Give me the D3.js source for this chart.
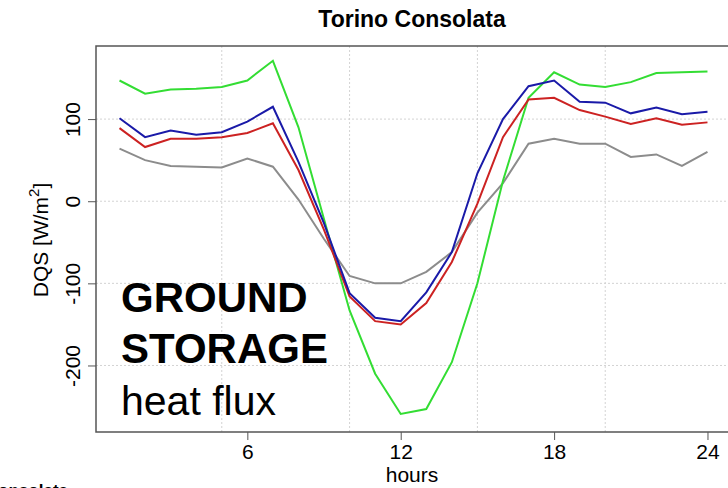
<!DOCTYPE html>
<html>
<head>
<meta charset="utf-8">
<script src="https://cdn.jsdelivr.net/npm/d3@7"></script>
<style>
  body { margin: 0; background: #fff; overflow: hidden; }
  text { font-family: "Liberation Sans", Arial, sans-serif; }
</style>
</head>
<body>
<div id="chart"></div>
<script>
// hourly values, hour 1..24
const hours = d3.range(1, 25);
const greenVals = [147, 131, 136, 137, 139, 147, 171, 90, -22, -133, -210, -259, -253, -196, -100, 25, 126, 157, 142, 139, 145, 156, 157, 158];
const blueVals = [101, 78, 86, 81, 84, 97, 115, 48, -27, -112, -142, -146, -111, -62, 34, 100, 140, 147, 121, 120, 107, 114, 106, 109];
const redVals = [89, 66, 76, 76, 78, 83, 95, 38, -35, -116, -146, -150, -124, -74, -3, 78, 124, 126, 111, 103, 94, 101, 93, 96];
const grayVals = [64, 50, 43, 42, 41, 52, 42, 2, -46, -91, -100, -100, -86, -62, -14, 22, 70, 76, 70, 70, 54, 57, 43, 60];

const xTicks = [6, 12, 18, 24];
const yTicks = [-200, -100, 0, 100];
const xGrid = [5, 10, 15, 20];

const W = 728, H = 488;
const margin = { top: 46, right: -3, bottom: 56, left: 96 };
const width = W - margin.left - margin.right,
    height = H - margin.top - margin.bottom;

const svg = d3.select('#chart').append('svg')
    .attr('width', W)
    .attr('height', H);

const g = svg.append('g')
    .attr('transform', 'translate(' + margin.left + ',' + margin.top + ')');

const x = d3.scaleLinear().domain([0.08, 24.92]).range([0, width]);
const y = d3.scaleLinear().domain([-281, 189]).range([height, 0]);

// grid
g.selectAll('.vgrid').data(xGrid).enter().append('line')
    .attr('x1', d => x(d)).attr('x2', d => x(d))
    .attr('y1', 0).attr('y2', height)
    .style('stroke', '#d3d3d3').style('stroke-dasharray', '2,2');
g.selectAll('.hgrid').data(yTicks).enter().append('line')
    .attr('x1', 0).attr('x2', width)
    .attr('y1', d => y(d)).attr('y2', d => y(d))
    .style('stroke', '#d3d3d3').style('stroke-dasharray', '2,2');

// series
const series = [
    { vals: grayVals, color: '#8c8c8c' },
    { vals: greenVals, color: '#33dd33' },
    { vals: redVals, color: '#cc2222' },
    { vals: blueVals, color: '#1a1aa8' }
];
const line = d3.line().x((d, i) => x(hours[i])).y(d => y(d));
series.forEach(function (s) {
    g.append('path')
        .datum(s.vals)
        .attr('d', line)
        .style('fill', 'none')
        .style('stroke', s.color)
        .style('stroke-width', 2);
});

// box
g.append('rect')
    .attr('x', 0).attr('y', 0)
    .attr('width', width).attr('height', height)
    .style('fill', 'none').style('stroke', '#555').style('stroke-width', 1.5);

// axes
const xAxis = g.append('g')
    .attr('transform', 'translate(0,' + height + ')')
    .call(d3.axisBottom(x).tickValues(xTicks).tickSize(8).tickPadding(4));
const yAxis = g.append('g')
    .call(d3.axisLeft(y).tickValues(yTicks).tickSize(8).tickFormat(d => String(d)));
[xAxis, yAxis].forEach(function (a) {
    a.select('.domain').remove();
    a.selectAll('line').style('stroke', '#555');
    a.selectAll('text').style('font-size', '21px').style('fill', '#000')
        .style('font-family', '"Liberation Sans", Arial, sans-serif');
});
// y labels parallel to the axis
yAxis.selectAll('text')
    .attr('x', -23).attr('y', 0).attr('dy', '0.35em')
    .attr('transform', 'rotate(-90,-23,0)')
    .style('text-anchor', 'middle');

// labels
svg.append('text')
    .attr('x', 412).attr('y', 27)
    .style('text-anchor', 'middle')
    .style('font-size', '23px').style('font-weight', 'bold')
    .text('Torino Consolata');

svg.append('text')
    .attr('x', 412).attr('y', 482)
    .style('text-anchor', 'middle')
    .style('font-size', '21px')
    .text('hours');

const yl = svg.append('text')
    .attr('transform', 'translate(48,240) rotate(-90)')
    .style('text-anchor', 'middle')
    .style('font-size', '21px');
yl.append('tspan').text('DQS [W/m');
yl.append('tspan').attr('dy', -9).style('font-size', '15px').text('2');
yl.append('tspan').attr('dy', 9).text(']');

// big annotation
svg.append('text').attr('x', 121).attr('y', 312)
    .style('font-size', '42px').style('font-weight', 'bold').text('GROUND');
svg.append('text').attr('x', 121).attr('y', 363)
    .style('font-size', '42px').style('font-weight', 'bold').text('STORAGE');
svg.append('text').attr('x', 121).attr('y', 415)
    .style('font-size', '41px').text('heat flux');

// cut-off title of the panel below
svg.append('text')
    .attr('x', 68).attr('y', 496)
    .style('text-anchor', 'end')
    .style('font-size', '17px').style('font-weight', 'bold')
    .text('Torino Consolata');
</script>
</body>
</html>
